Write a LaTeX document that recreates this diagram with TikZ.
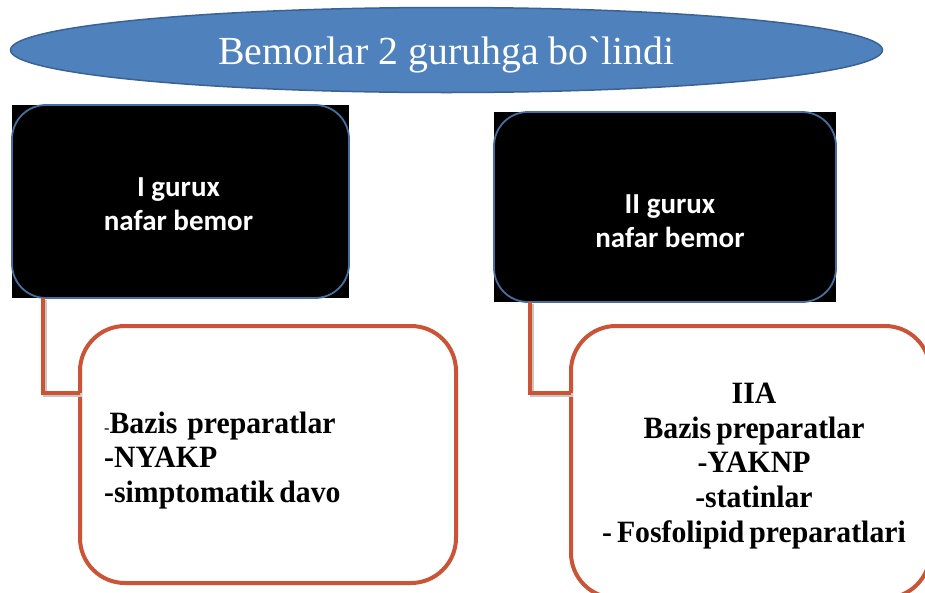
\documentclass[tikz,border=0pt]{standalone}
\usepackage{fontspec}
\setmainfont{Liberation Serif}
\newfontfamily\titlefont{Liberation Serif}
\newfontfamily\bodyfont{Liberation Serif}[FakeStretch=0.96]
\newfontfamily\boxfont{Carlito}
\newcommand\tightspaces{\spaceskip=0.16em\relax}
\usetikzlibrary{shapes.geometric,calc}
\definecolor{titleblue}{RGB}{79,129,189}
\definecolor{titleedge}{RGB}{58,98,148}
\definecolor{edgeblue}{RGB}{72,110,160}
\definecolor{linkred}{RGB}{204,84,54}
\begin{document}
\begin{tikzpicture}[x=1pt,y=-1pt,
  titleshape/.style={ellipse, fill=titleblue, draw=titleedge, line width=1.5pt,
    minimum width=872pt, minimum height=85pt, inner sep=0pt},
  titletext/.style={text=white, inner sep=0pt, font=\titlefont\fontsize{39.8}{45}\selectfont},
  groupbg/.style={rectangle, fill=black, inner sep=0pt, outer sep=0pt},
  grouptext/.style={text=white, align=center, inner sep=0pt,
    font=\boxfont\bfseries\fontsize{29}{34}\selectfont},
  groupedge/.style={draw=edgeblue, line width=1.8pt, rounded corners=34pt},
  treatbox/.style={rectangle, draw=linkred, line width=4pt, rounded corners=45pt, fill=white,
    inner sep=0pt, outer sep=0pt},
  treattext/.style={inner sep=0pt,
    font=\bodyfont\bfseries\fontsize{31}{34.7}\selectfont\tightspaces},
  link/.style={draw=linkred, line width=4pt,
    preaction={draw=black!22, line width=4pt, transform canvas={shift={(1.5pt,-1.5pt)}}}}
]
\useasboundingbox (0,0) rectangle (925,592);
\clip (0,0) rectangle (925,592);
\fill[white] (0,0) rectangle (925,592);

\node[titleshape] (title) at (446.5,50) {};
\node[titletext] (titlet) at ($(title.center)+(0,5)$) {Bemorlar 2 guruhga bo`lindi};

\node[groupbg, minimum width=337pt, minimum height=193pt] (g1) at (180.5,201.5) {};
\draw[groupedge] (g1.south west) rectangle (g1.north east);
\node[grouptext] (g1t) at ($(g1.center)+(-2,2.5)$) {I gurux\\nafar bemor};
\node[groupbg, minimum width=342pt, minimum height=190pt] (g2) at (665,207) {};
\draw[groupedge] (g2.south west) rectangle (g2.north east);
\node[grouptext] (g2t) at ($(g2.center)+(5,14)$) {II gurux\\nafar bemor};

\node[treatbox, minimum width=376pt, minimum height=257pt] (t1) at (268,454.5) {};
\node[treattext, anchor=west, align=left] (t1t) at ($(t1.west)+(24,6)$)
  {{\mdseries\fontsize{17}{17}\selectfont -}Bazis\ \ preparatlar\\-NYAKP\\-simptomatik davo};
\node[treatbox, minimum width=359pt, minimum height=272pt] (t2) at (750.5,462) {};
\node[treattext, align=center] (t2t) at (754,466)
  {IIA\\Bazis preparatlar\\-YAKNP\\-statinlar\\- Fosfolipid preparatlari};

\draw[link] ($(g1.south west)+(31,0)$) |- ($(t1.north west)+(0,67)$);
\draw[link] ($(g2.south west)+(36,0)$) |- ($(t2.north west)+(0,67)$);
\end{tikzpicture}
\end{document}
